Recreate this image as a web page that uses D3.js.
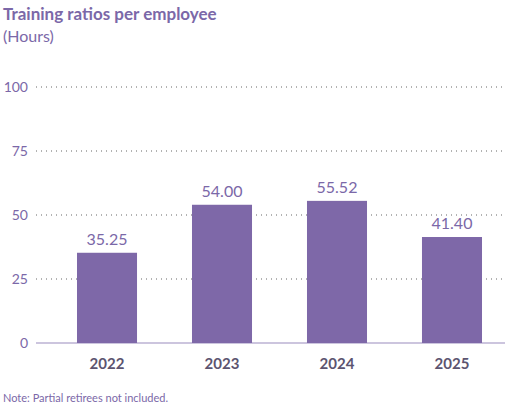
<!DOCTYPE html>
<html><head><meta charset="utf-8">
<script src="https://cdn.jsdelivr.net/npm/d3@7"></script>
<style>body{margin:0;background:#fff;font-family:Lato,sans-serif;}</style>
</head><body><svg id="chart" width="526" height="413"></svg>
<script>
let years = ["2022", "2023", "2024", "2025"];
let hours = [35.25, 54.00, 55.52, 41.40];
let ticks = [0, 25, 50, 75, 100];

let purple = "#7b68a8";
let svg = d3.select("#chart");

let x = d3.scaleBand().domain(years).range([19.5, 539.5]).paddingInner(0.478).paddingOuter(0.5);
let y = d3.scaleLinear().domain([0, 100]).range([343, 87]);

svg.append("text").attr("x", 3).attr("y", 20).attr("fill", purple)
	.style("font-size", "17px").style("font-weight", "bold").text("Training ratios per employee");
svg.append("text").attr("x", 3).attr("y", 42).attr("fill", purple)
	.style("font-size", "16px").text("(Hours)");

// grid
svg.selectAll(".grid").data(ticks.filter(d => d > 0)).enter().append("line")
	.attr("x1", 36).attr("x2", 505)
	.attr("y1", d => y(d)).attr("y2", d => y(d))
	.attr("stroke", "#666").attr("stroke-width", 1).attr("stroke-dasharray", "1,4");
svg.append("line").attr("x1", 36).attr("x2", 505).attr("y1", y(0)).attr("y2", y(0))
	.attr("stroke", "#9a8cbd").attr("stroke-width", 1.2);

svg.selectAll(".tick").data(ticks).enter().append("text")
	.attr("x", 28).attr("y", d => y(d) + 5).attr("text-anchor", "end")
	.attr("fill", purple).style("font-size", "14px").text(d => d);

svg.selectAll(".bar").data(years).enter().append("rect")
	.attr("x", d => x(d)).attr("width", x.bandwidth())
	.attr("y", (d, i) => y(hours[i])).attr("height", (d, i) => y(0) - y(hours[i]))
	.attr("fill", "#7e68a8");

svg.selectAll(".val").data(years).enter().append("text")
	.attr("x", d => x(d) + x.bandwidth() / 2).attr("y", (d, i) => y(hours[i]) - 8)
	.attr("text-anchor", "middle").attr("fill", purple).style("font-size", "16px")
	.text((d, i) => hours[i].toFixed(2));

svg.selectAll(".yr").data(years).enter().append("text")
	.attr("x", d => x(d) + x.bandwidth() / 2).attr("y", 369)
	.attr("text-anchor", "middle").attr("fill", "#5c5470").style("font-size", "15px")
	.style("font-weight", "bold").text(d => d);

svg.append("text").attr("x", 3).attr("y", 402).attr("fill", purple)
	.style("font-size", "11px").text("Note: Partial retirees not included.");
</script></body></html>
